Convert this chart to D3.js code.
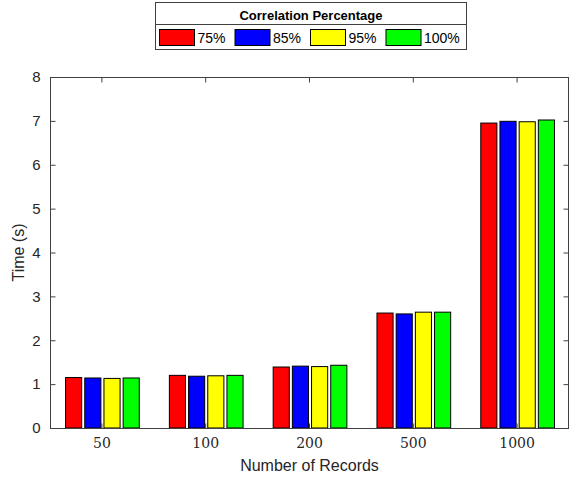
<!DOCTYPE html>
<html>
<head>
<meta charset="utf-8">
<script src="https://cdn.jsdelivr.net/npm/d3@7"></script>
<style>
  body { margin: 0; background: #fff; }
  svg { display: block; }
</style>
</head>
<body>
<div id="chart"></div>
<script>
// data
const categories = ['50', '100', '200', '500', '1000'];
const seriesNames = ['75%', '85%', '95%', '100%'];
const seriesColors = ['#ff0000', '#0000ff', '#ffff00', '#00ff00'];
const v75 = [1.15, 1.20, 1.39, 2.62, 6.95];
const v85 = [1.14, 1.18, 1.41, 2.60, 6.99];
const v95 = [1.13, 1.19, 1.40, 2.64, 6.98];
const v100 = [1.14, 1.20, 1.43, 2.64, 7.02];
const yTicks = [0, 1, 2, 3, 4, 5, 6, 7, 8];

const series = [v75, v85, v95, v100];

const width = 570, height = 478;
const margin = { left: 50, right: 1, top: 77, bottom: 49 };
const axisColor = '#404040';

const svg = d3.select('#chart').append('svg')
  .attr('width', width)
  .attr('height', height);

const x = d3.scaleBand()
  .domain(categories)
  .range([margin.left, width - margin.right])
  .paddingInner(0)
  .paddingOuter(0);

const xInner = d3.scaleBand()
  .domain(seriesNames)
  .range([x.bandwidth() * 0.15, x.bandwidth() * 0.86])
  .paddingInner(0.16);

const y = d3.scaleLinear()
  .domain([0, 8])
  .range([height - margin.bottom - 1, margin.top]);

// bars
const groups = svg.selectAll('.grp')
  .data(categories)
  .enter()
  .append('g')
  .attr('class', 'grp')
  .attr('transform', d => `translate(${x(d)},0)`);

groups.selectAll('rect')
  .data((d, i) => series.map((s, j) => ({ name: seriesNames[j], value: s[i], color: seriesColors[j] })))
  .enter()
  .append('rect')
  .attr('x', d => xInner(d.name))
  .attr('y', d => y(d.value))
  .attr('width', xInner.bandwidth())
  .attr('height', d => y(0) - y(d.value))
  .attr('fill', d => d.color)
  .attr('stroke', '#000')
  .attr('stroke-width', 1);

// axes box
const x0 = margin.left, x1 = width - margin.right;
const yb = y(0), yt = y(8);
svg.append('rect')
  .attr('x', x0 + 0.5)
  .attr('y', yt + 0.5)
  .attr('width', x1 - x0 - 1)
  .attr('height', yb - yt)
  .attr('fill', 'none')
  .attr('stroke', axisColor)
  .attr('stroke-width', 1);

// y axis
const yAxis = d3.axisLeft(y)
  .tickValues(yTicks)
  .tickSize(-5)
  .tickPadding(10);
const gy = svg.append('g')
  .attr('transform', `translate(${x0 + 0.5},0)`)
  .call(yAxis);
gy.select('.domain').remove();
gy.selectAll('line').attr('stroke', axisColor);
gy.selectAll('text')
  .style('font-family', 'Liberation Sans, Arial, sans-serif')
  .style('font-size', '15px')
  .attr('fill', '#262626');

// right side ticks
const gyr = svg.append('g')
  .attr('transform', `translate(${x1 - 0.5},0)`)
  .call(d3.axisRight(y).tickValues(yTicks).tickSize(-5).tickFormat(''));
gyr.select('.domain').remove();
gyr.selectAll('line').attr('stroke', axisColor);

// x axis
const xAxis = d3.axisBottom(x)
  .tickSize(-5)
  .tickPadding(10);
const gx = svg.append('g')
  .attr('transform', `translate(0,${yb + 0.5})`)
  .call(xAxis);
gx.select('.domain').remove();
gx.selectAll('line').attr('stroke', axisColor);
gx.selectAll('text')
  .style('font-family', 'DejaVu Serif, Liberation Serif, serif')
  .style('font-size', '14px')
  .attr('fill', '#262626');

// top ticks
const gxt = svg.append('g')
  .attr('transform', `translate(0,${yt + 0.5})`)
  .call(d3.axisTop(x).tickSize(-5).tickFormat(''));
gxt.select('.domain').remove();
gxt.selectAll('line').attr('stroke', axisColor);

// axis labels
svg.append('text')
  .attr('x', (x0 + x1) / 2)
  .attr('y', 471)
  .attr('text-anchor', 'middle')
  .style('font-family', 'Liberation Sans, Arial, sans-serif')
  .style('font-size', '16px')
  .attr('fill', '#262626')
  .text('Number of Records');

svg.append('text')
  .attr('transform', `translate(24,${(yb + yt) / 2}) rotate(-90)`)
  .attr('text-anchor', 'middle')
  .style('font-family', 'Liberation Sans, Arial, sans-serif')
  .style('font-size', '16px')
  .attr('fill', '#262626')
  .text('Time (s)');

// legend
const legend = svg.append('g').attr('transform', 'translate(155.5,2.5)');
legend.append('rect')
  .attr('width', 311)
  .attr('height', 47)
  .attr('fill', '#fff')
  .attr('stroke', axisColor);
legend.append('line')
  .attr('x1', 0).attr('x2', 311)
  .attr('y1', 22).attr('y2', 22)
  .attr('stroke', axisColor);
legend.append('text')
  .attr('x', 155.5)
  .attr('y', 17)
  .attr('text-anchor', 'middle')
  .style('font-family', 'Liberation Sans, Arial, sans-serif')
  .style('font-size', '13px')
  .style('font-weight', 'bold')
  .attr('fill', '#000')
  .text('Correlation Percentage');

const items = legend.selectAll('.item')
  .data(seriesNames)
  .enter()
  .append('g')
  .attr('class', 'item')
  .attr('transform', (d, i) => `translate(${4 + i * 75.5},27)`);
items.append('rect')
  .attr('width', 35)
  .attr('height', 16)
  .attr('fill', (d, i) => seriesColors[i])
  .attr('stroke', '#000');
items.append('text')
  .attr('x', 38)
  .attr('y', 13)
  .style('font-family', 'Liberation Sans, Arial, sans-serif')
  .style('font-size', '14px')
  .attr('fill', '#000')
  .text(d => d);
</script>
</body>
</html>
